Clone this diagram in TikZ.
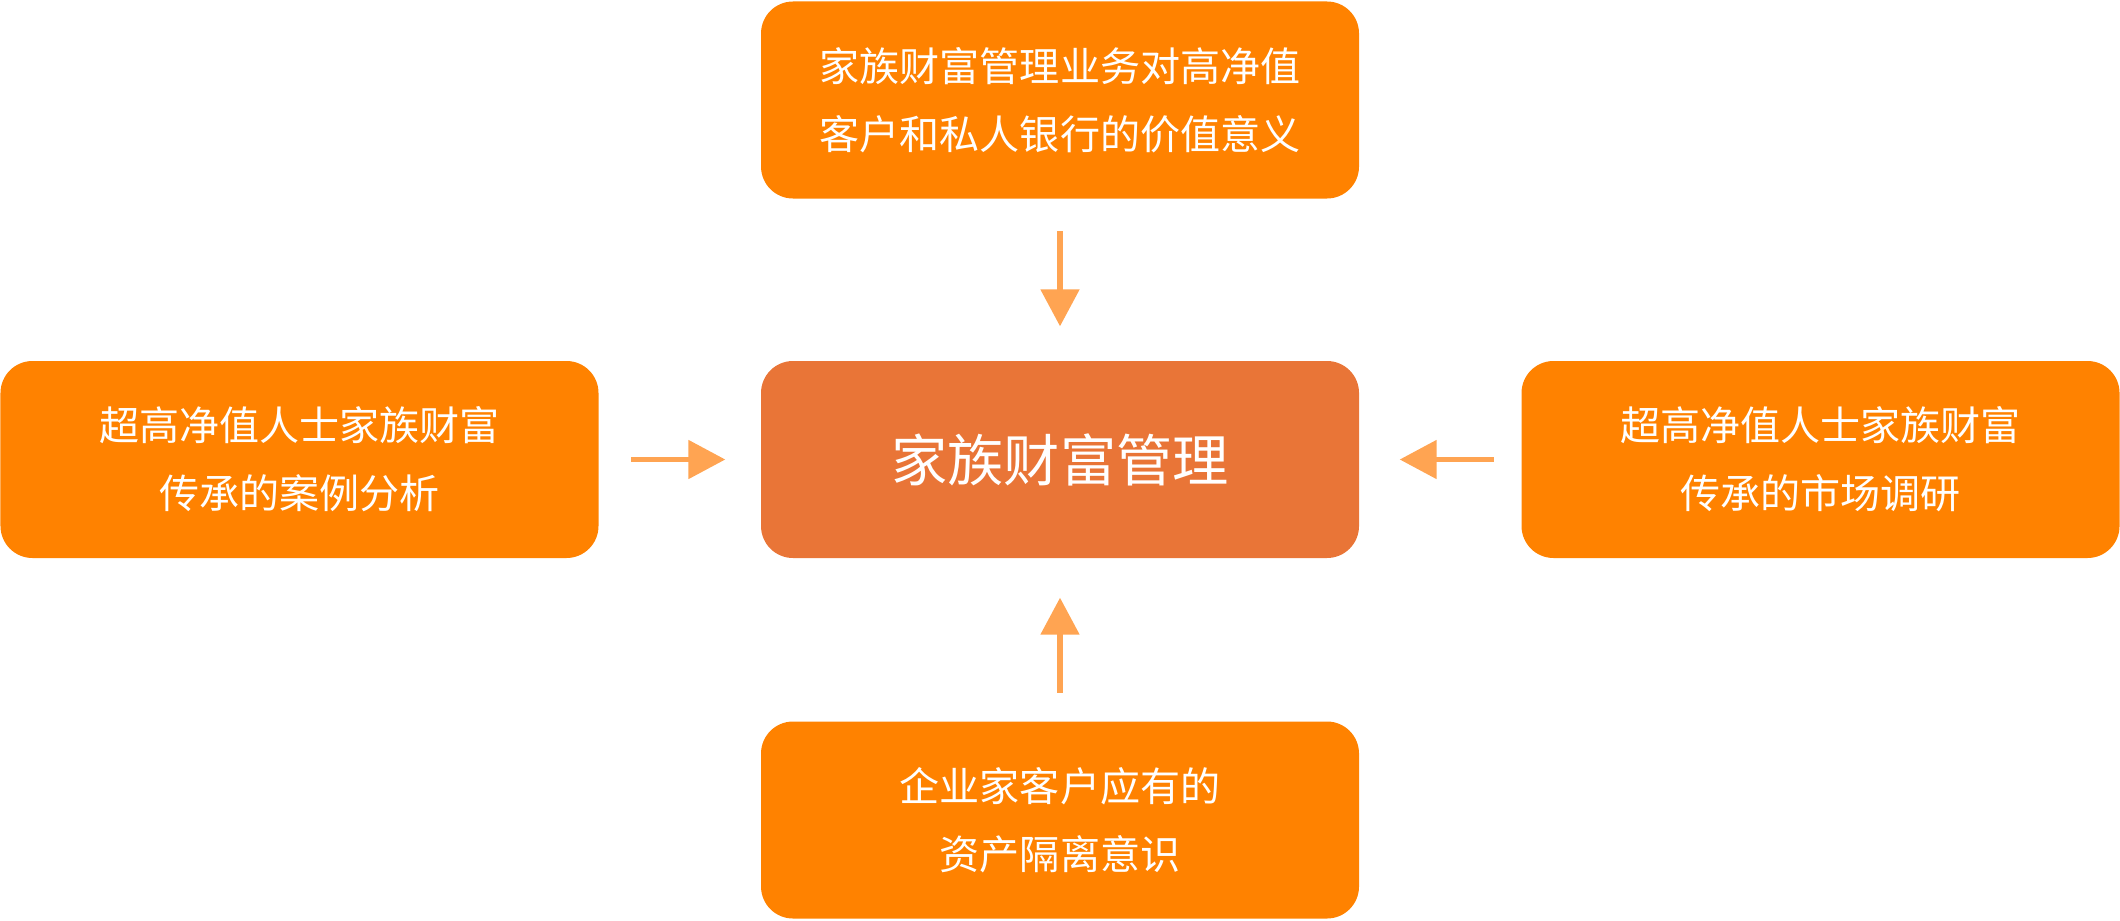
\documentclass[tikz,border=0pt]{standalone}
\usepackage{fontspec}
\newfontfamily\cjk{Noto Sans CJK SC}
\usetikzlibrary{arrows.meta}
\definecolor{boxorange}{HTML}{FF8200}
\definecolor{centerorange}{HTML}{E97537}
\definecolor{arroworange}{HTML}{FFA452}
\tikzset{
  box/.style={rectangle, rounded corners=0.32cm, fill=boxorange, text=white,
    minimum width=5.98cm, minimum height=1.97cm, align=center, inner sep=0pt,
    font=\cjk\fontsize{11.4}{19.4}\selectfont},
  mainbox/.style={box, fill=centerorange, font=\cjk\fontsize{16}{20}\selectfont},
  flow/.style={draw=arroworange, line width=1.5pt,
    -{Triangle[length=0.37cm, width=0.38cm]}}
}
\begin{document}
\begin{tikzpicture}
\useasboundingbox (0,0) rectangle (21.2,9.2);
\node[box] (top) at (10.6,8.2) {家族财富管理业务对高净值\\客户和私人银行的价值意义};
\node[mainbox] (center) at (10.6,4.605) {家族财富管理};
\node[box] (left) at (2.995,4.605) {超高净值人士家族财富\\传承的案例分析};
\node[box] (right) at (18.205,4.605) {超高净值人士家族财富\\传承的市场调研};
\node[box] (bottom) at (10.6,1.0) {企业家客户应有的\\资产隔离意识};
\draw[flow, shorten <=0.32cm, shorten >=0.34cm] (top) -- (center);
\draw[flow, shorten <=0.32cm, shorten >=0.35cm] (left) -- (center);
\draw[flow, shorten <=0.27cm, shorten >=0.40cm] (right) -- (center);
\draw[flow, shorten <=0.28cm, shorten >=0.39cm] (bottom) -- (center);
\end{tikzpicture}
\end{document}
